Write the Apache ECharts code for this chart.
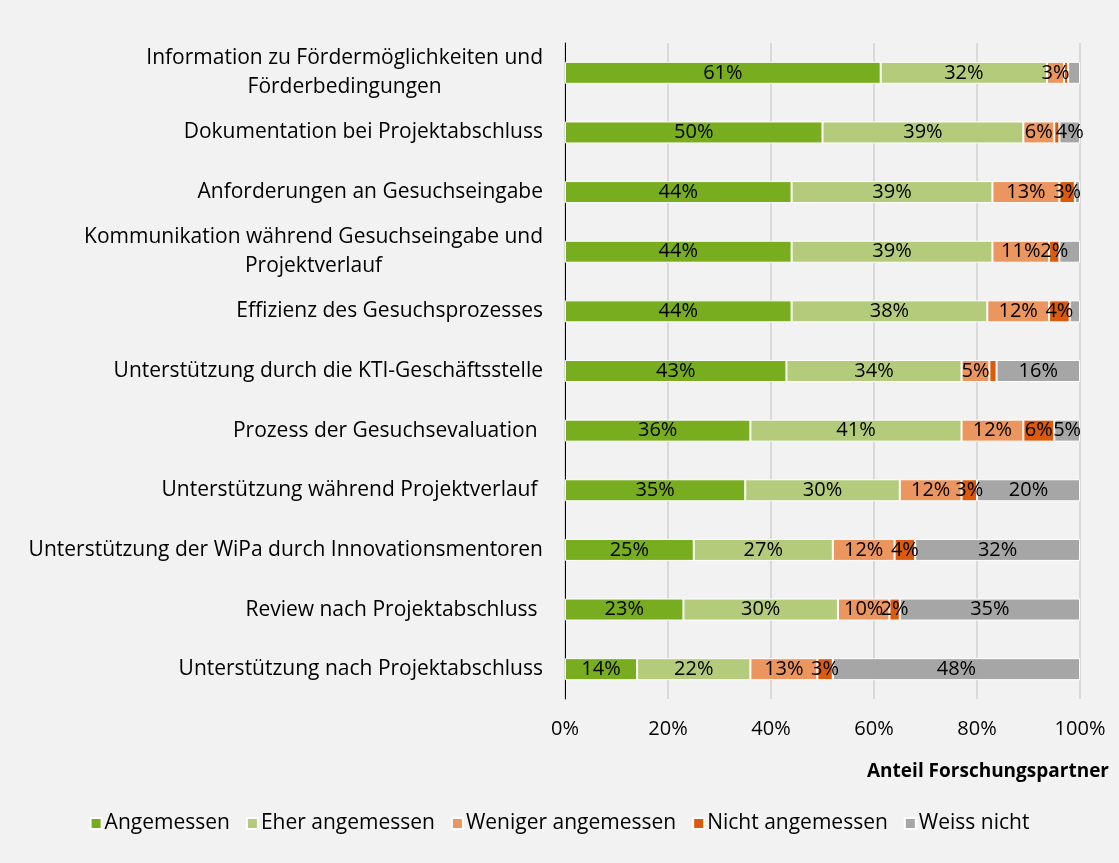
<!DOCTYPE html>
<html>
<head>
<meta charset="utf-8">
<script src="https://cdn.jsdelivr.net/npm/echarts@6/dist/echarts.min.js"></script>
<style>html,body{margin:0;padding:0;background:#f2f2f2;}#c{width:1119px;height:863px;}</style>
</head>
<body>
<div id="c"></div>
<script>
const categories = [
  'Information zu Fördermöglichkeiten und\nFörderbedingungen',
  'Dokumentation bei Projektabschluss',
  'Anforderungen an Gesuchseingabe',
  'Kommunikation während Gesuchseingabe und\nProjektverlauf',
  'Effizienz des Gesuchsprozesses',
  'Unterstützung durch die KTI-Geschäftsstelle',
  'Prozess der Gesuchsevaluation ',
  'Unterstützung während Projektverlauf ',
  'Unterstützung der WiPa durch Innovationsmentoren',
  'Review nach Projektabschluss ',
  'Unterstützung nach Projektabschluss'
];
const seriesNames = ['Angemessen', 'Eher angemessen', 'Weniger angemessen', 'Nicht angemessen', 'Weiss nicht'];
const angemessen = [61.3, 50, 44, 44, 44, 43, 36, 35, 25, 23, 14];
const eherAngemessen = [32.3, 39, 39, 39, 38, 34, 41, 30, 27, 30, 22];
const wenigerAngemessen = [3.3, 6, 13, 11, 12, 5.4, 12, 12, 12, 10, 13];
const nichtAngemessen = [0.8, 1, 3, 2, 4, 1.4, 6, 3, 4, 2, 3];
const weissNicht = [2.3, 4, 1, 4, 2, 16.2, 5, 20, 32, 35, 48];
const xTicks = [0, 20, 40, 60, 80, 100];
// labels not shown in the original: [seriesIndex, rowIndex]
const hiddenLabels = [[3,0],[4,0],[3,1],[4,2],[4,3],[4,4],[3,5]];

const colors = ['#78ad1f', '#b3cb7b', '#eb955f', '#dc5a0c', '#a6a6a6'];
const allData = [angemessen, eherAngemessen, wenigerAngemessen, nichtAngemessen, weissNicht];
const FONT = 'Open Sans';
const FS = 20;
const FS_CAT = 21;

const chart = echarts.init(document.getElementById('c'));
const series = allData.map((arr, si) => ({
  name: seriesNames[si],
  type: 'bar',
  stack: 'total',
  barWidth: 22,
  itemStyle: { color: colors[si], borderColor: '#ffffff', borderWidth: 1 },
  label: {
    show: true,
    position: 'inside',
    color: '#000',
    fontFamily: FONT,
    fontSize: FS,
    formatter: p => Math.round(p.value) + '%'
  },
  data: arr.map((v, ri) => {
    const hide = hiddenLabels.some(h => h[0] === si && h[1] === ri);
    return hide ? { value: v, label: { show: false } } : v;
  })
}));

chart.setOption({
  backgroundColor: '#f2f2f2',
  animation: false,
  textStyle: { fontFamily: FONT },
  title: {
    text: 'Anteil Forschungspartner',
    right: 5,
    top: 757,
    textStyle: { fontFamily: FONT, fontSize: 19, fontWeight: 'bold', color: '#000' }
  },
  legend: {
    bottom: 24,
    left: 'center',
    itemWidth: 11,
    itemHeight: 11,
    itemGap: 16,
    icon: 'rect',
    textStyle: { fontFamily: FONT, fontSize: FS_CAT, color: '#000', padding: [0, 0, 0, -2] },
    data: seriesNames
  },
  grid: { left: 565, right: 39, top: 43, bottom: 164, containLabel: false },
  xAxis: {
    type: 'value',
    min: 0,
    max: 100,
    interval: 20,
    axisLine: { show: false },
    axisTick: { show: false },
    splitLine: { show: true, lineStyle: { color: '#d0d0d0', width: 1.5 } },
    axisLabel: {
      fontFamily: FONT, fontSize: FS, color: '#000', margin: 20,
      formatter: v => (xTicks.indexOf(v) >= 0 ? v + '%' : '')
    }
  },
  yAxis: {
    type: 'category',
    inverse: true,
    data: categories,
    axisLine: { show: true, lineStyle: { color: '#000', width: 1 } },
    axisTick: { show: false },
    axisLabel: {
      margin: 22,
      align: 'right',
      color: '#000',
      fontFamily: FONT,
      fontSize: FS_CAT,
      lineHeight: 29,
      formatter: v => v.split('\n').map(l => '{c|' + l + '}').join('\n'),
      rich: { c: { align: 'center', fontFamily: FONT, fontSize: FS_CAT, color: '#000', lineHeight: 29 } }
    }
  },
  series: series
});
</script>
</body>
</html>
